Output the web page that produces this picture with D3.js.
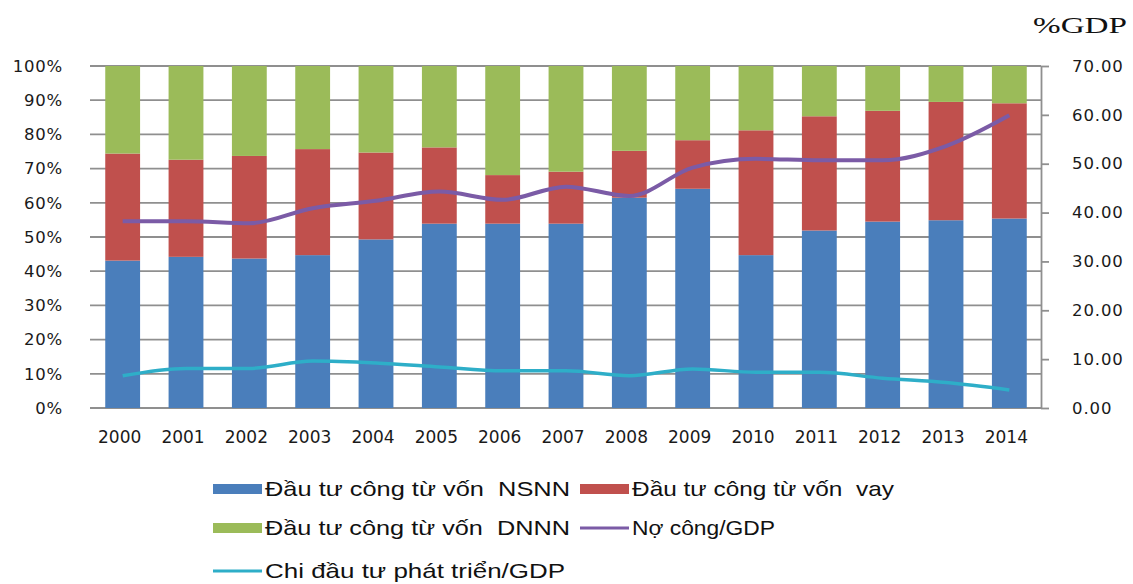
<!DOCTYPE html>
<html>
<head>
<meta charset="utf-8">
<script src="https://cdn.jsdelivr.net/npm/d3@7"></script>
<style>
  body { margin: 0; background: #fff; }
  svg { display: block; }
  text { white-space: pre; }
</style>
</head>
<body>
<script>
// Data
const years = ["2000", "2001", "2002", "2003", "2004", "2005", "2006", "2007",
               "2008", "2009", "2010", "2011", "2012", "2013", "2014"];
// shares of public investment (%)
const nsnn = [43.1, 44.2, 43.7, 44.7, 49.3, 53.9, 53.9, 53.9, 61.5, 64.1, 44.7, 51.9, 54.5, 54.9, 55.4];
const vay  = [31.3, 28.4, 30.0, 31.0, 25.4, 22.3, 14.2, 15.2, 13.7, 14.2, 36.5, 33.4, 32.4, 34.6, 33.7];
const dnnn = [25.6, 27.4, 26.3, 24.3, 25.3, 23.8, 31.9, 30.9, 24.8, 21.7, 18.8, 14.7, 13.1, 10.5, 10.9];
// lines, %GDP (right axis)
const noCong = [38.2, 38.2, 37.8, 40.9, 42.4, 44.3, 42.6, 45.3, 43.4, 49.2, 51.0, 50.7, 50.7, 53.6, 59.9];
const chiDTPT = [6.6, 8.1, 8.1, 9.6, 9.2, 8.4, 7.6, 7.6, 6.6, 8.0, 7.3, 7.3, 6.1, 5.2, 3.7];

const leftTicks = [0, 0.1, 0.2, 0.3, 0.4, 0.5, 0.6, 0.7, 0.8, 0.9, 1];
const rightTicks = [0, 10, 20, 30, 40, 50, 60, 70];

const seriesNames = ["Đầu tư công từ vốn  NSNN", "Đầu tư công từ vốn  vay", "Đầu tư công từ vốn  DNNN"];
const colors = ["#4a7ebb", "#c0504d", "#9bbb59"];
const lineNames = ["Nợ công/GDP", "Chi đầu tư phát triển/GDP"];
const lineColors = ["#7b5ba6", "#2eaec8"];

// Chart dimensions
const width = 1133;
const height = 584;
const plotLeft = 90, plotRight = 1041, plotTop = 66, plotBottom = 408;

const svg = d3.select("body").append("svg")
    .attr("width", width)
    .attr("height", height);

const x = d3.scaleBand()
    .domain(years)
    .range([91, 1041])
    .paddingInner(0.45)
    .paddingOuter(0.225);

const yL = d3.scaleLinear().domain([0, 1]).range([plotBottom, plotTop]);
const yR = d3.scaleLinear().domain([0, 70]).range([plotBottom, plotTop]);

// gridlines
svg.append("g")
    .selectAll("line")
    .data(leftTicks)
    .enter().append("line")
        .attr("x1", plotLeft)
        .attr("x2", plotRight)
        .attr("y1", d => yL(d))
        .attr("y2", d => yL(d))
        .attr("stroke", "#8f8f8f")
        .attr("stroke-width", 1.8);

// stacked bars
const rows = years.map((yr, i) => ({ year: yr, a: nsnn[i], b: vay[i], c: dnnn[i] }));
const stack = d3.stack().keys(["a", "b", "c"]);
const layers = stack(rows);

svg.append("g")
    .selectAll("g")
    .data(layers)
    .enter().append("g")
        .attr("fill", (d, i) => colors[i])
    .selectAll("rect")
    .data(d => d)
    .enter().append("rect")
        .attr("x", d => x(d.data.year))
        .attr("width", x.bandwidth())
        .attr("y", d => yL(d[1] / 100))
        .attr("height", d => yL(d[0] / 100) - yL(d[1] / 100));

// left axis labels
const leftAxis = svg.append("g")
    .attr("transform", `translate(${plotLeft + 10},0)`)
    .call(d3.axisLeft(yL).tickValues(leftTicks).tickFormat(d3.format(".0%")).tickSize(0).tickPadding(37));
leftAxis.select(".domain").remove();
leftAxis.selectAll("text")
    .attr("font-family", "DejaVu Sans, Verdana, sans-serif")
    .attr("font-size", 16.5)
    .attr("letter-spacing", 0.8)
    .attr("fill", "#1a1a1a");

// right axis
const rightAxis = svg.append("g")
    .attr("transform", `translate(${plotRight},0)`)
    .call(d3.axisRight(yR).tickValues(rightTicks).tickFormat(d3.format(".2f")).tickSize(8).tickSizeOuter(0).tickPadding(23));
rightAxis.select(".domain").attr("stroke", "#8f8f8f").attr("stroke-width", 1.8);
rightAxis.selectAll(".tick line").attr("stroke", "#8f8f8f").attr("stroke-width", 1.8);
rightAxis.selectAll("text")
    .attr("font-family", "DejaVu Sans, Verdana, sans-serif")
    .attr("font-size", 16.5)
    .attr("letter-spacing", 0.9)
    .attr("fill", "#1a1a1a");

// bottom axis
const bottomAxis = svg.append("g")
    .attr("transform", `translate(0,${plotBottom})`)
    .call(d3.axisBottom(x).tickSize(0).tickPadding(23));
bottomAxis.select(".domain").remove();
bottomAxis.selectAll("text")
    .attr("font-family", "DejaVu Sans, Verdana, sans-serif")
    .attr("font-size", 17)
    .attr("dx", -3)
    .attr("fill", "#1a1a1a");

// %GDP title
svg.append("text")
    .attr("x", 1033)
    .attr("y", 33)
    .attr("font-family", "Liberation Serif, Times New Roman, serif")
    .attr("font-size", 23)
    .attr("textLength", 94)
    .attr("lengthAdjust", "spacingAndGlyphs")
    .attr("fill", "#111")
    .text("%GDP");

// lines
const line = d3.line()
    .x((d, i) => x(years[i]) + x.bandwidth() / 2)
    .y(d => yR(d))
    .curve(d3.curveMonotoneX);

[noCong, chiDTPT].forEach((s, i) => {
    svg.append("path")
        .datum(s)
        .attr("fill", "none")
        .attr("stroke", lineColors[i])
        .attr("stroke-width", i === 0 ? 4 : 3.5)
        .attr("stroke-linejoin", "round")
        .attr("d", line);
});

// legend
const legendItems = [
    { name: seriesNames[0], color: colors[0], type: "rect", x: 213, y: 489, w: 305 },
    { name: seriesNames[1], color: colors[1], type: "rect", x: 580, y: 489, w: 262 },
    { name: seriesNames[2], color: colors[2], type: "rect", x: 213, y: 528, w: 305 },
    { name: lineNames[0], color: lineColors[0], type: "line", x: 580, y: 528, w: 143 },
    { name: lineNames[1], color: lineColors[1], type: "line", x: 213, y: 571, w: 300 }
];

const legend = svg.append("g")
    .selectAll("g")
    .data(legendItems)
    .enter().append("g")
        .attr("transform", d => `translate(${d.x},${d.y})`);

legend.filter(d => d.type === "rect").append("rect")
    .attr("x", 0)
    .attr("y", -5)
    .attr("width", 49)
    .attr("height", 10)
    .attr("fill", d => d.color);

legend.filter(d => d.type === "line").append("line")
    .attr("x1", 0)
    .attr("x2", 49)
    .attr("y1", 0)
    .attr("y2", 0)
    .attr("stroke", d => d.color)
    .attr("stroke-width", 3);

legend.append("text")
    .attr("x", 52)
    .attr("y", 0)
    .attr("dy", "0.35em")
    .attr("font-family", "Liberation Sans, Arial, sans-serif")
    .attr("font-size", 21)
    .attr("textLength", d => d.w)
    .attr("lengthAdjust", "spacingAndGlyphs")
    .attr("fill", "#111")
    .text(d => d.name);
</script>
</body>
</html>
